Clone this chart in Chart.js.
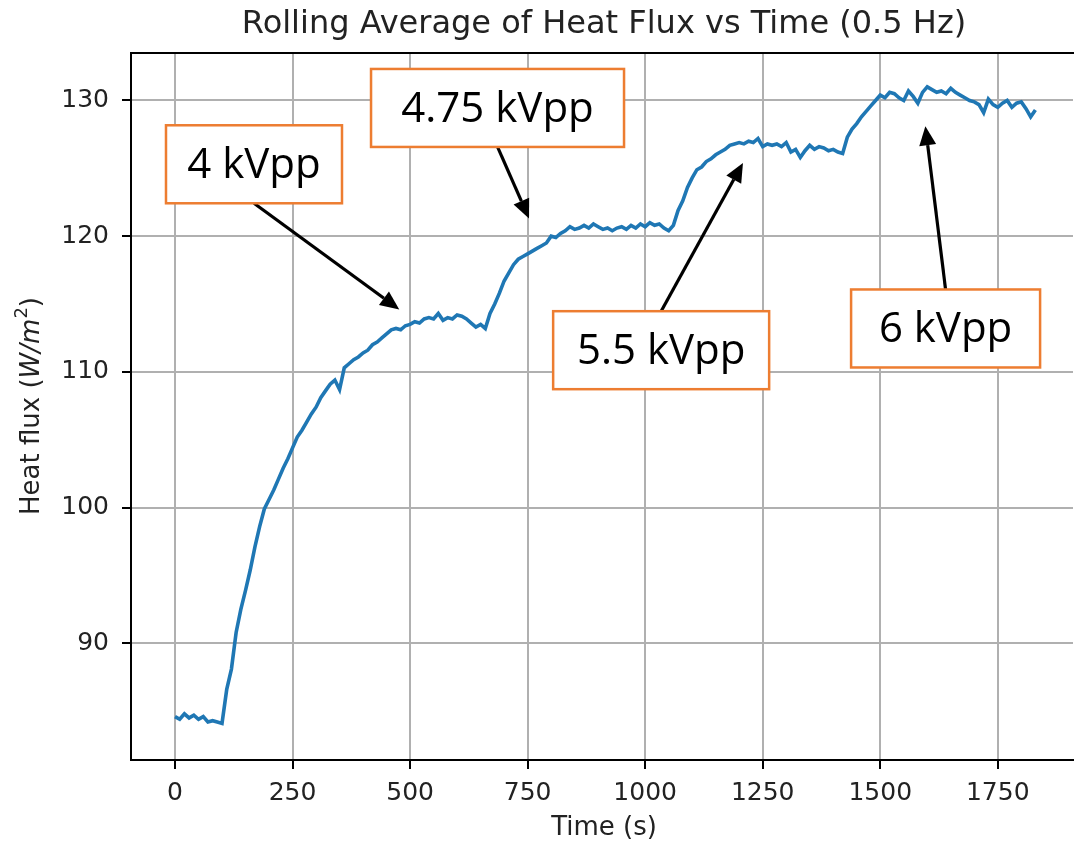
<!DOCTYPE html>
<html lang="en">
<head>
    <meta charset="UTF-8">
    <title>Rolling Average of Heat Flux vs Time (0.5 Hz)</title>
    <script src="https://cdn.jsdelivr.net/npm/chart.js"></script>
    <style>
        body { margin: 0; background: #ffffff; }
        #heatChart { display: block; }
    </style>
</head>
<body>
    <canvas id="heatChart" width="1074" height="844"></canvas>

    <script>
        // time (s)
        const timeSec = [
            0, 10, 20, 30, 40, 50, 60, 70, 80, 90,
            100, 110, 120, 130, 140, 150, 160, 170, 180, 190,
            200, 210, 220, 230, 240, 250, 260, 270, 280, 290,
            300, 310, 320, 330, 340, 350, 360, 370, 380, 390,
            400, 410, 420, 430, 440, 450, 460, 470, 480, 490,
            500, 510, 520, 530, 540, 550, 560, 570, 580, 590,
            600, 610, 620, 630, 640, 650, 660, 670, 680, 690,
            700, 710, 720, 730, 740, 750, 760, 770, 780, 790,
            800, 810, 820, 830, 840, 850, 860, 870, 880, 890,
            900, 910, 920, 930, 940, 950, 960, 970, 980, 990,
            1000, 1010, 1020, 1030, 1040, 1050, 1060, 1070, 1080, 1090,
            1100, 1110, 1120, 1130, 1140, 1150, 1160, 1170, 1180, 1190,
            1200, 1210, 1220, 1230, 1240, 1250, 1260, 1270, 1280, 1290,
            1300, 1310, 1320, 1330, 1340, 1350, 1360, 1370, 1380, 1390,
            1400, 1410, 1420, 1430, 1440, 1450, 1460, 1470, 1480, 1490,
            1500, 1510, 1520, 1530, 1540, 1550, 1560, 1570, 1580, 1590,
            1600, 1610, 1620, 1630, 1640, 1650, 1660, 1670, 1680, 1690,
            1700, 1710, 1720, 1730, 1740, 1750, 1760, 1770, 1780, 1790,
            1800, 1810, 1820, 1830
        ];

        // heat flux (W/m2), rolling average
        const heatFlux = [
            84.6, 84.4, 84.8, 84.5, 84.7, 84.4, 84.6, 84.2, 84.3, 84.2,
            84.1, 86.6, 88.1, 90.8, 92.5, 93.9, 95.4, 97.1, 98.6, 99.9,
            100.6, 101.3, 102.1, 102.9, 103.6, 104.4, 105.2, 105.7, 106.3, 106.9,
            107.4, 108.1, 108.6, 109.1, 109.4, 108.7, 110.3, 110.6, 110.9, 111.1,
            111.4, 111.6, 112.0, 112.2, 112.5, 112.8, 113.1, 113.2, 113.1, 113.4,
            113.5, 113.7, 113.6, 113.9, 114.0, 113.9, 114.3, 113.8, 114.0, 113.9,
            114.2, 114.1, 113.9, 113.6, 113.3, 113.5, 113.2, 114.3, 115.0, 115.8,
            116.7, 117.3, 117.9, 118.3, 118.5, 118.7, 118.9, 119.1, 119.3, 119.5,
            120.0, 119.9, 120.2, 120.4, 120.7, 120.5, 120.6, 120.8, 120.6, 120.9,
            120.7, 120.5, 120.6, 120.4, 120.6, 120.7, 120.5, 120.8, 120.6, 120.9,
            120.7, 121.0, 120.8, 120.9, 120.6, 120.4, 120.8, 121.9, 122.6, 123.6,
            124.3, 124.9, 125.1, 125.5, 125.7, 126.0, 126.2, 126.4, 126.7, 126.8,
            126.9, 126.8, 127.0, 126.9, 127.2, 126.6, 126.8, 126.7, 126.8, 126.6,
            126.9, 126.2, 126.4, 125.8, 126.3, 126.7, 126.4, 126.6, 126.5, 126.3,
            126.4, 126.2, 126.1, 127.3, 127.9, 128.3, 128.8, 129.2, 129.6, 130.0,
            130.4, 130.2, 130.6, 130.5, 130.2, 130.0, 130.7, 130.3, 129.8, 130.6,
            131.0, 130.8, 130.6, 130.7, 130.5, 130.9, 130.6, 130.4, 130.2, 130.0,
            129.9, 129.7, 129.1, 130.1, 129.7, 129.5, 129.8, 130.0, 129.5, 129.8,
            129.9, 129.4, 128.8, 129.3
        ];

        const xTicks = [0, 250, 500, 750, 1000, 1250, 1500, 1750];
        const yTicks = [90, 100, 110, 120, 130];

        // annotation boxes (text centre and arrow tip in data units)
        const noteLabels = ['4 kVpp', '4.75 kVpp', '5.5 kVpp', '6 kVpp'];
        const noteTextAt = [[168, 125.3], [686, 129.45], [1034, 111.6], [1639, 113.2]];
        const noteTipAt = [[477, 114.6], [753, 121.3], [1208, 125.4], [1596, 128.1]];
        const noteBoxW = [176, 253, 216, 189];

        const tickFont = { family: 'DejaVu Sans', size: 25 };

        const decorations = {
            id: 'decorations',
            afterDraw(chart) {
                const ctx = chart.ctx;
                const area = chart.chartArea;
                const xs = chart.scales.x, ys = chart.scales.y;
                ctx.save();

                // top spine
                ctx.strokeStyle = '#000';
                ctx.lineWidth = 2;
                ctx.beginPath();
                ctx.moveTo(area.left - 1, area.top);
                ctx.lineTo(area.right + 1, area.top);
                ctx.stroke();

                // title + axis labels
                ctx.fillStyle = '#222';
                ctx.textAlign = 'center';
                ctx.textBaseline = 'middle';
                ctx.font = '32px "DejaVu Sans"';
                ctx.fillText('Rolling Average of Heat Flux vs Time (0.5 Hz)', 604, 25);
                ctx.font = '26px "DejaVu Sans"';
                ctx.fillText('Time (s)', 604, 828);

                // y label with italic unit
                ctx.translate(32, 406);
                ctx.rotate(-Math.PI / 2);
                const parts = [
                    ['Heat flux (', '26px "DejaVu Sans"', 0],
                    ['W/m', 'oblique 26px "DejaVu Sans"', 0],
                    ['2', '18px "DejaVu Sans"', -10],
                    [')', '26px "DejaVu Sans"', 0]
                ];
                let total = 0;
                parts.forEach(p => { ctx.font = p[1]; total += ctx.measureText(p[0]).width; });
                let cx = -total / 2;
                ctx.textAlign = 'left';
                parts.forEach(p => {
                    ctx.font = p[1];
                    ctx.fillText(p[0], cx, p[2]);
                    cx += ctx.measureText(p[0]).width;
                });
                ctx.setTransform(1, 0, 0, 1, 0, 0);

                // annotation boxes with arrows
                const boxH = 78;
                noteLabels.forEach((label, i) => {
                    const bx = xs.getPixelForValue(noteTextAt[i][0]);
                    const by = ys.getPixelForValue(noteTextAt[i][1]);
                    const tx = xs.getPixelForValue(noteTipAt[i][0]);
                    const ty = ys.getPixelForValue(noteTipAt[i][1]);
                    const w = noteBoxW[i];
                    const sy = ty > by ? by + boxH / 2 : by - boxH / 2;

                    // arrow
                    const ang = Math.atan2(ty - sy, tx - bx);
                    const headL = 19, headW = 8.5;
                    const ex = tx - Math.cos(ang) * headL, ey = ty - Math.sin(ang) * headL;
                    ctx.strokeStyle = '#000';
                    ctx.fillStyle = '#000';
                    ctx.lineWidth = 3.2;
                    ctx.beginPath();
                    ctx.moveTo(bx, sy);
                    ctx.lineTo(ex, ey);
                    ctx.stroke();
                    ctx.beginPath();
                    ctx.moveTo(tx, ty);
                    ctx.lineTo(ex + Math.sin(ang) * headW, ey - Math.cos(ang) * headW);
                    ctx.lineTo(ex - Math.sin(ang) * headW, ey + Math.cos(ang) * headW);
                    ctx.closePath();
                    ctx.fill();

                    // box
                    ctx.fillStyle = '#ffffff';
                    ctx.fillRect(bx - w / 2, by - boxH / 2, w, boxH);
                    ctx.strokeStyle = '#ed7d31';
                    ctx.lineWidth = 2.5;
                    ctx.strokeRect(bx - w / 2, by - boxH / 2, w, boxH);

                    ctx.fillStyle = '#000';
                    ctx.font = '42px "Open Sans"';
                    ctx.textAlign = 'center';
                    ctx.textBaseline = 'middle';
                    ctx.fillText(label, bx, by + 2);
                });
                ctx.restore();
            }
        };

        new Chart(document.getElementById('heatChart'), {
            type: 'line',
            data: {
                datasets: [{
                    label: 'Heat flux',
                    data: timeSec.map((t, i) => ({ x: t, y: heatFlux[i] })),
                    borderColor: '#1f77b4',
                    borderWidth: 3.6,
                    pointRadius: 0,
                    tension: 0,
                    fill: false
                }]
            },
            options: {
                responsive: false,
                animation: false,
                devicePixelRatio: 1,
                layout: { padding: { top: 53, right: 1, left: 0, bottom: 0 } },
                plugins: {
                    legend: { display: false },
                    tooltip: { enabled: false }
                },
                scales: {
                    x: {
                        type: 'linear',
                        min: -93.6,
                        max: 1910,
                        afterBuildTicks: s => { s.ticks = xTicks.map(v => ({ value: v })); },
                        afterFit: s => { s.height = 84; },
                        grid: { color: '#b0b0b0', lineWidth: 2, tickColor: '#000', tickLength: 9, tickWidth: 2 },
                        border: { color: '#000', width: 2 },
                        ticks: { font: tickFont, color: '#222', padding: 9, maxRotation: 0, callback: v => String(v) }
                    },
                    y: {
                        type: 'linear',
                        min: 81.4,
                        max: 133.5,
                        afterBuildTicks: s => { s.ticks = yTicks.map(v => ({ value: v })); },
                        afterFit: s => { s.width = 131; },
                        grid: { color: '#b0b0b0', lineWidth: 2, tickColor: '#000', tickLength: 9, tickWidth: 2 },
                        border: { color: '#000', width: 2 },
                        ticks: { font: tickFont, color: '#222', padding: 13, callback: v => String(v) }
                    }
                }
            },
            plugins: [decorations]
        });
    </script>
</body>
</html>
